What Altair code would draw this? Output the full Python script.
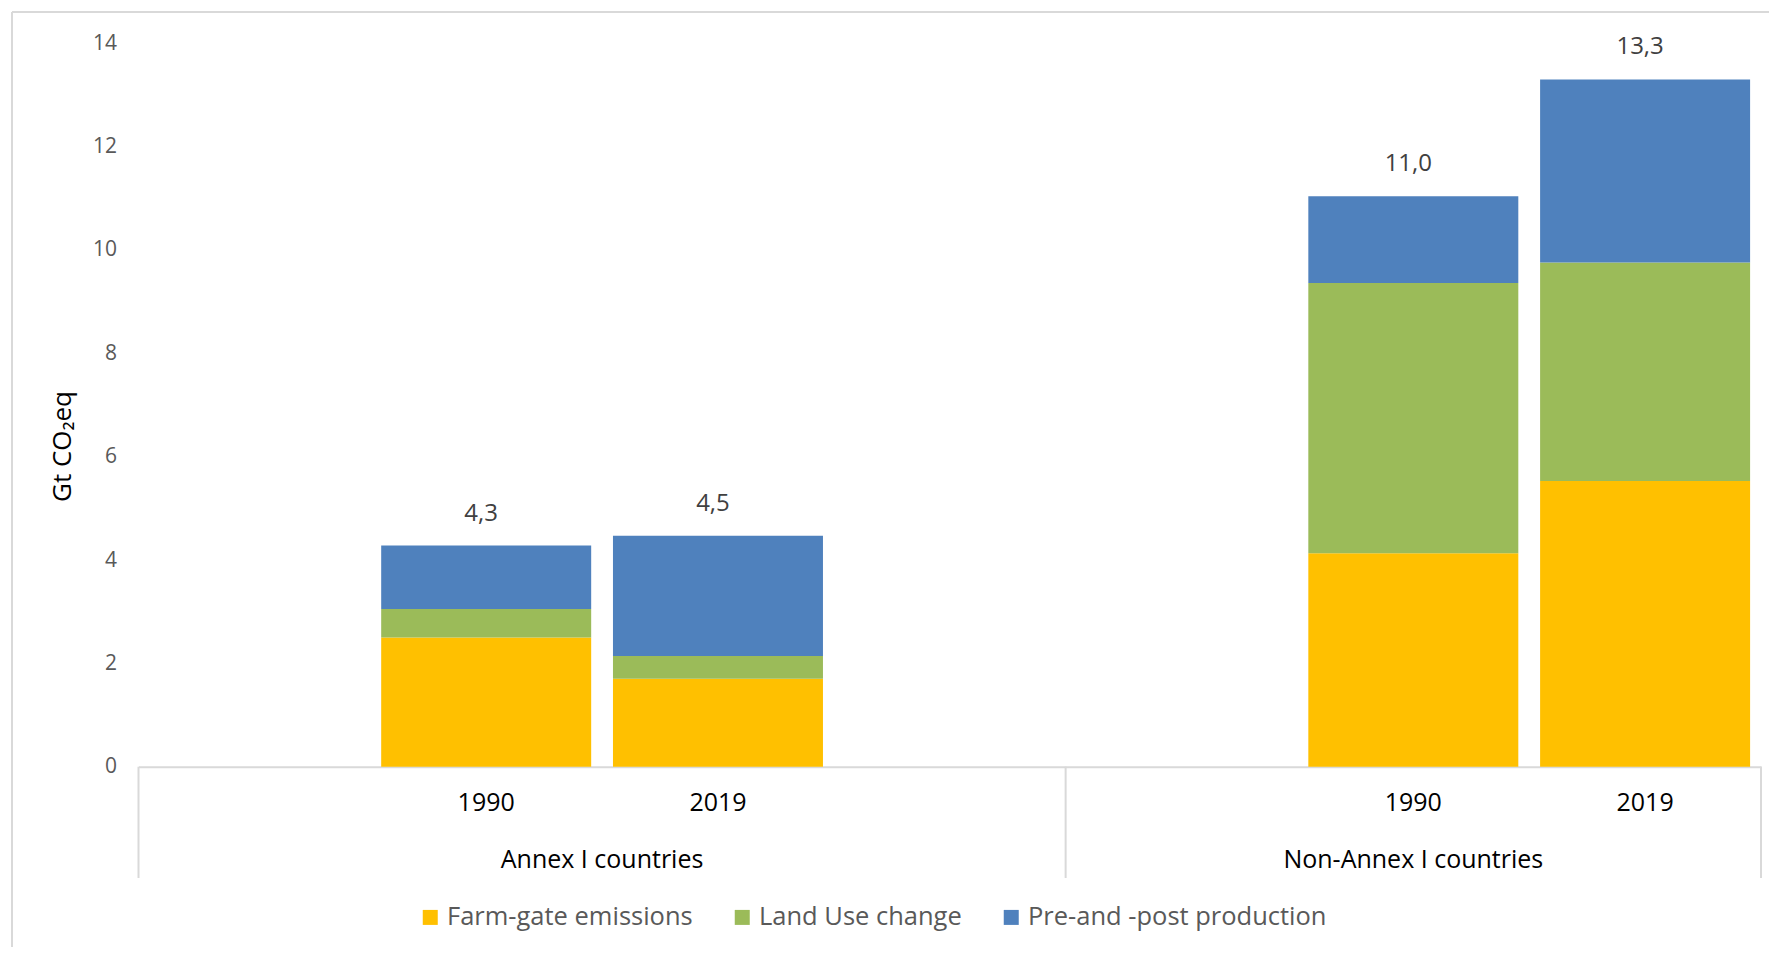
import altair as alt
import pandas as pd

# ---- data ----
groups = ["Annex I countries", "Annex I countries", "Non-Annex I countries", "Non-Annex I countries"]
years = ["1990", "2019", "1990", "2019"]
series = ["Farm-gate emissions", "Land Use change", "Pre-and -post production"]
farm_gate = [2.50, 1.70, 4.13, 5.53]
land_use = [0.55, 0.44, 5.23, 4.23]
pre_post = [1.23, 2.33, 1.68, 3.54]
total_labels = ["4,3", "4,5", "11,0", "13,3"]
colors = ["#FFC000", "#9BBB59", "#4F81BD"]
group_names = ["Annex I countries", "Non-Annex I countries"]
y_ticks = [0, 2, 4, 6, 8, 10, 12, 14]

# category slots (Excel-like empty slots around the bars)
slots = [
    "Annex I countries|pad0", "Annex I countries|1990", "Annex I countries|2019", "Annex I countries|pad1",
    "Non-Annex I countries|pad0", "Non-Annex I countries|1990", "Non-Annex I countries|2019",
]

rows = []
for g, yr, a, b, c in zip(groups, years, farm_gate, land_use, pre_post):
    for k, (s, v) in enumerate(zip(series, [a, b, c])):
        rows.append({"slot": f"{g}|{yr}", "series": s, "value": v, "order": k})
seg = pd.DataFrame(rows)

tot = pd.DataFrame({
    "slot": [f"{g}|{yr}" for g, yr in zip(groups, years)],
    "year": years,
    "total": [a + b + c for a, b, c in zip(farm_gate, land_use, pre_post)],
    "label": total_labels,
})

grp_a = pd.DataFrame({"slot": [f"{group_names[0]}|1990"], "name": [group_names[0]]})
grp_n = pd.DataFrame({"slot": [f"{group_names[1]}|1990"], "name": [group_names[1]]})
seps_left = pd.DataFrame({"slot": [f"{g}|pad0" for g in group_names]})
seps_right = pd.DataFrame({"slot": [slots[-1]]})
one = pd.DataFrame({"a": [0]})

W = 1622.5
H = 723.4
FONT = "Open Sans"
GRAY_LINE = "#D9D9D9"

xscale = alt.Scale(domain=slots, paddingInner=0, paddingOuter=0)
xaxis = alt.Axis(labels=False, ticks=False, title=None, grid=False,
                 domainColor=GRAY_LINE, domainWidth=2)
yscale = alt.Scale(domain=[0, 14], nice=False)
yaxis = alt.Axis(values=y_ticks, grid=False, domain=False, ticks=False, tickSize=0,
                 labelPadding=22, labelFontSize=21, labelColor="#595959", labelFont=FONT,
                 title="Gt CO₂eq", titleFontSize=26, titleFont=FONT, titleFontWeight="normal",
                 titleColor="#000000", titleAngle=-90, titleX=-76.5, titleY=402.7,
                 titleAlign="center", titleBaseline="middle")


def X(**kw):
    return alt.X("slot:N", scale=xscale, axis=xaxis, **kw)


bars = alt.Chart(seg).mark_bar(width=alt.RelativeBandSize(0.906)).encode(
    x=X(),
    y=alt.Y("value:Q", stack="zero", scale=yscale, axis=yaxis),
    color=alt.Color("series:N", scale=alt.Scale(domain=series, range=colors),
                    legend=alt.Legend(title=None, orient="none", direction="horizontal",
                                      legendX=279, legendY=861, symbolType="square",
                                      symbolSize=225, symbolStrokeWidth=0, labelFontSize=25.5,
                                      labelFont=FONT, labelColor="#595959", columnPadding=36,
                                      labelOffset=4, padding=0, labelLimit=0)),
    order=alt.Order("order:Q"),
)

totals = alt.Chart(tot).mark_text(fontSize=24, font=FONT, color="#404040", dy=-32, dx=-5,
                                  baseline="middle").encode(
    x=X(),
    y=alt.Y("total:Q", scale=yscale, axis=yaxis),
    text="label:N",
)

year_labels = alt.Chart(tot).mark_text(fontSize=25, font=FONT, color="#000000",
                                       baseline="middle").encode(
    x=X(),
    y=alt.value(H + 36.3),
    text="year:N",
)

group_label_a = alt.Chart(grp_a).mark_text(fontSize=25, font=FONT, color="#000000",
                                           baseline="middle").encode(
    x=X(bandPosition=1),
    y=alt.value(H + 93.3),
    text="name:N",
)
group_label_n = alt.Chart(grp_n).mark_text(fontSize=25, font=FONT, color="#000000",
                                           baseline="middle").encode(
    x=X(bandPosition=0.5),
    y=alt.value(H + 93.3),
    text="name:N",
)

sep_l = alt.Chart(seps_left).mark_rule(color=GRAY_LINE, strokeWidth=2).encode(
    x=X(bandPosition=0),
    y=alt.value(H),
    y2=alt.value(H + 111.3),
)
sep_r = alt.Chart(seps_right).mark_rule(color=GRAY_LINE, strokeWidth=2).encode(
    x=X(bandPosition=1),
    y=alt.value(H),
    y2=alt.value(H + 111.3),
)

frame_left = alt.Chart(one).mark_rule(color=GRAY_LINE, strokeWidth=2).encode(
    x=alt.value(-126.5), y=alt.value(-31.3), y2=alt.value(H + 250))
frame_top = alt.Chart(one).mark_rule(color=GRAY_LINE, strokeWidth=2).encode(
    x=alt.value(-126.5), x2=alt.value(W + 40), y=alt.value(-31.3))

chart = alt.layer(bars, totals, year_labels, group_label_a, group_label_n, sep_l, sep_r,
                  frame_left, frame_top).properties(
    width=W, height=H, autosize="none",
    padding={"left": 130.5, "top": 35.3, "right": 8, "bottom": 180},
    background="white",
).configure_view(stroke=None)

chart.save("out.html", embed_options={"renderer": "svg", "actions": False})
